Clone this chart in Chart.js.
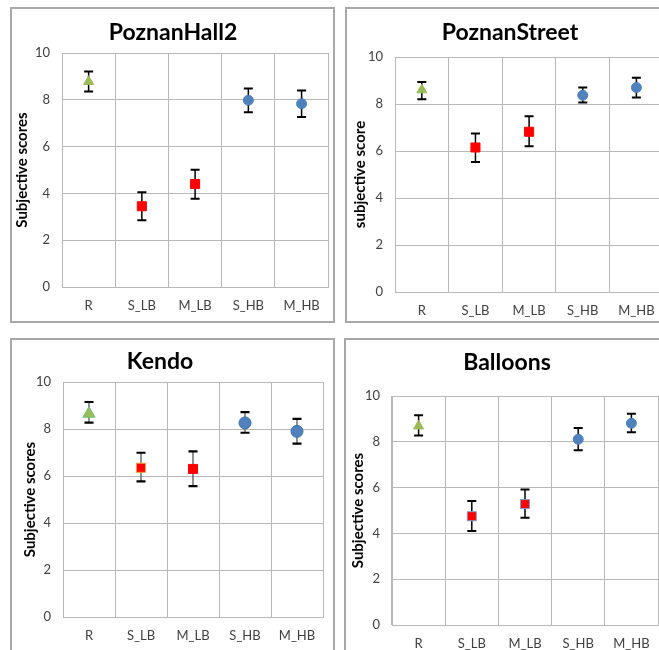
<!DOCTYPE html>
<html>
<head>
<meta charset="utf-8">
<script src="https://cdn.jsdelivr.net/npm/chart.js@4/dist/chart.umd.min.js"></script>
<style>
  html, body { margin: 0; padding: 0; background: #ffffff; width: 659px; height: 650px; overflow: hidden; }
  .wrap { position: absolute; }
  .box { position: absolute; border: 2px solid #a8a8a8; box-sizing: border-box; pointer-events: none; }
  canvas { position: absolute; }
</style>
</head>
<body>
<script>
// ---------- data ----------
const categories = ['R', 'S_LB', 'M_LB', 'S_HB', 'M_HB'];
const yTicks = [0, 2, 4, 6, 8, 10];

const titles = ['PoznanHall2', 'PoznanStreet', 'Kendo', 'Balloons'];
const yTitles = ['Subjective scores', 'subjective score', 'Subjective scores', 'Subjective scores'];

const hallMean = [8.78, 3.45, 4.40, 7.98, 7.83];
const hallLow  = [8.36, 2.85, 3.77, 7.47, 7.27];
const hallHigh = [9.21, 4.05, 5.01, 8.48, 8.40];

const streetMean = [8.60, 6.15, 6.82, 8.37, 8.70];
const streetLow  = [8.20, 5.53, 6.20, 8.06, 8.28];
const streetHigh = [8.94, 6.74, 7.48, 8.70, 9.12];

const kendoMean = [8.65, 6.35, 6.30, 8.26, 7.90];
const kendoLow  = [8.27, 5.77, 5.57, 7.84, 7.38];
const kendoHigh = [9.15, 6.99, 7.05, 8.72, 8.43];

const balloonsMean = [8.69, 4.75, 5.28, 8.11, 8.81];
const balloonsLow  = [8.28, 4.10, 4.68, 7.63, 8.42];
const balloonsHigh = [9.16, 5.41, 5.92, 8.60, 9.22];

// ---------- styles ----------
const GREEN = '#9bbb59', RED = '#ff0000', BLUE = '#4f81bd';
const markerStyles = ['triangle', 'rect', 'rect', 'circle', 'circle'];
const markerColors = [GREEN, RED, RED, BLUE, BLUE];
const FONT = 'Lato, "Open Sans", sans-serif';

const panels = [
  { mean: hallMean, low: hallLow, high: hallHigh, left: 10, top: 7, w: 325, h: 316,
    yW: 52, padR: 5, xH: 36, padT: 46, titleX: 163, titleY: 26, yTitlePad: 3,
    radii: [5.8, 6.4, 6.4, 5, 5], borders: [GREEN, RED, RED, BLUE, BLUE], cap: 4.5, capW: 2, barW: 1.5, barC: '#000' },
  { mean: streetMean, low: streetLow, high: streetHigh, left: 345, top: 7, w: 325, h: 316,
    yW: 50, padR: 5, xH: 31, padT: 50, titleX: 165, titleY: 26, yTitlePad: 6,
    radii: [5.8, 6.4, 6.4, 5, 5], borders: [GREEN, RED, RED, BLUE, BLUE], cap: 4.5, capW: 2, barW: 1.5, barC: '#000' },
  { mean: kendoMean, low: kendoLow, high: kendoHigh, left: 10, top: 338, w: 325, h: 316,
    yW: 53, padR: 12, xH: 37, padT: 44, titleX: 150, titleY: 24, yTitlePad: 11,
    radii: [7, 6.4, 6.4, 6, 6], borders: ['#6cc070', '#e8a23a', RED, '#3a6ea8', '#3a6ea8'], cap: 4.5, capW: 2.2, barW: 1.3, barC: '#555' },
  { mean: balloonsMean, low: balloonsLow, high: balloonsHigh, left: 344, top: 338, w: 325, h: 316,
    yW: 48, padR: 11, xH: 29, padT: 58, titleX: 163, titleY: 25, yTitlePad: 5,
    radii: [5.8, 6.4, 6.4, 5, 5], borders: [GREEN, '#7f9fd0', '#7f9fd0', BLUE, BLUE], cap: 4.5, capW: 2, barW: 1.5, barC: '#000' }
];

const errorBars = {
  id: 'errorBars',
  beforeDatasetsDraw(chart, args, opts) {
    const { ctx, scales: { x, y } } = chart;
    const p = opts.panel;
    ctx.save();
    for (let i = 0; i < categories.length; i++) {
      const px = x.getPixelForValue(i);
      const yl = y.getPixelForValue(p.low[i]);
      const yh = y.getPixelForValue(p.high[i]);
      ctx.strokeStyle = p.barC;
      ctx.lineWidth = p.barW;
      ctx.beginPath(); ctx.moveTo(px, yl); ctx.lineTo(px, yh); ctx.stroke();
      ctx.strokeStyle = '#000';
      ctx.lineWidth = p.capW;
      ctx.beginPath();
      ctx.moveTo(px - p.cap, yl); ctx.lineTo(px + p.cap, yl);
      ctx.moveTo(px - p.cap, yh); ctx.lineTo(px + p.cap, yh);
      ctx.stroke();
    }
    ctx.restore();
  }
};

const panelTitle = {
  id: 'panelTitle',
  afterDraw(chart, args, opts) {
    const { ctx } = chart;
    ctx.save();
    ctx.font = 'bold 23px ' + FONT;
    ctx.fillStyle = '#000';
    ctx.textAlign = 'center';
    ctx.textBaseline = 'middle';
    ctx.fillText(opts.text, opts.x, opts.y);
    ctx.restore();
  }
};

panels.forEach((p, idx) => {
  const cv = document.createElement('canvas');
  cv.width = p.w; cv.height = p.h;
  cv.style.left = p.left + 'px'; cv.style.top = p.top + 'px';
  cv.style.width = p.w + 'px'; cv.style.height = p.h + 'px';
  document.body.appendChild(cv);
  const box = document.createElement('div');
  box.className = 'box';
  box.style.left = p.left + 'px'; box.style.top = p.top + 'px';
  box.style.width = p.w + 'px'; box.style.height = p.h + 'px';
  document.body.appendChild(box);

  new Chart(cv.getContext('2d'), {
    type: 'line',
    data: {
      labels: categories,
      datasets: [{
        data: p.mean,
        showLine: false,
        pointStyle: markerStyles,
        pointRadius: p.radii,
        pointHoverRadius: p.radii,
        pointBackgroundColor: markerColors,
        pointBorderColor: p.borders,
        pointBorderWidth: 1
      }]
    },
    options: {
      responsive: false,
      animation: false,
      events: [],
      layout: { padding: { top: p.padT, right: p.padR, left: 0, bottom: 0 } },
      plugins: {
        legend: { display: false },
        tooltip: { enabled: false },
        title: { display: false },
        errorBars: { panel: p },
        panelTitle: { text: titles[idx], x: p.titleX, y: p.titleY }
      },
      scales: {
        x: {
          type: 'category',
          offset: true,
          grid: { offset: true, color: '#b8b8b8', lineWidth: 1, drawTicks: false },
          border: { color: '#b8b8b8', width: 1 },
          ticks: { color: '#404040', font: { family: FONT, size: 13 }, padding: 11, maxRotation: 0, autoSkip: false },
          afterFit(s) { s.height = p.xH; }
        },
        y: {
          min: 0, max: 10,
          afterBuildTicks(s) { s.ticks = yTicks.map(v => ({ value: v })); },
          grid: { color: '#b8b8b8', lineWidth: 1, drawTicks: false },
          border: { color: '#b8b8b8', width: 1 },
          ticks: { color: '#404040', font: { family: FONT, size: 13 }, padding: 12 },
          title: { display: true, text: yTitles[idx], color: '#000',
                   font: { family: FONT, size: 15, weight: 'bold' }, padding: { top: p.yTitlePad, bottom: 0 } },
          afterFit(s) { s.width = p.yW; }
        }
      }
    },
    plugins: [errorBars, panelTitle]
  });
});
</script>
</body>
</html>
